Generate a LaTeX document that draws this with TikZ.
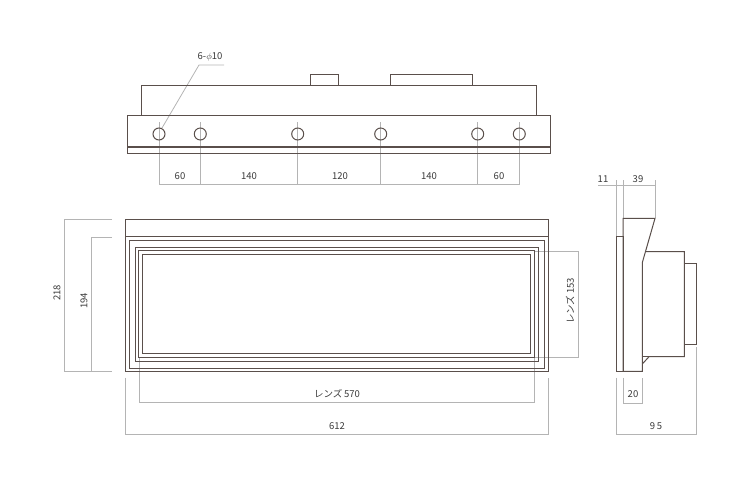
\documentclass[tikz,border=0pt]{standalone}
\usepackage{fontspec}
\setmainfont{Noto Sans CJK JP}
\tikzset{
  outline/.style={draw=linebrown, line width=1pt},
  thickline/.style={draw=linebrown, line width=1.6pt},
  dimline/.style={draw=dimgray, line width=0.8pt},
  dimlabel/.style={text=labelgray, font=\fontsize{9.5}{11}\selectfont, inner sep=0pt},
}
\definecolor{linebrown}{HTML}{5A4F4B}
\definecolor{dimgray}{HTML}{B4B4B4}
\definecolor{labelgray}{HTML}{3A3A3A}
\begin{document}
\begin{tikzpicture}[x=1pt, y=-1pt]
  \useasboundingbox (0,0) rectangle (730,487);
  \coordinate (h1) at (159,134);
  \coordinate (h2) at (200.3,134);
  \coordinate (h3) at (297.7,134);
  \coordinate (h4) at (380.7,134);
  \coordinate (h5) at (477.7,134);
  \coordinate (h6) at (519.3,134);
  \draw [dimline] (h1 |- 0,122) -- (h1 |- 0,184.7) -- (h6 |- 0,184.7) -- (h6 |- 0,122);
  \draw [dimline] (h2 |- 0,122) -- (h2 |- 0,184.7);
  \draw [dimline] (h3 |- 0,122) -- (h3 |- 0,184.7);
  \draw [dimline] (h4 |- 0,122) -- (h4 |- 0,184.7);
  \draw [dimline] (h5 |- 0,122) -- (h5 |- 0,184.7);
  \draw [dimline] (162,128) -- (199,65) -- (224,65);
  \draw [outline] (127.7,115.3) rectangle (550.7,153.7);
  \draw [thickline] (127.7,147.2) -- (550.7,147.2);
  \draw [outline] (141.7,115.3) -- (141.7,85.7) -- (536.7,85.7) -- (536.7,115.3);
  \draw [outline] (310.7,85.7) -- (310.7,74) -- (338,74) -- (338,85.7);
  \draw [outline] (390.7,85.7) -- (390.7,74) -- (472,74) -- (472,85.7);
  \draw [outline] (h1) circle (6);
  \draw [outline] (h2) circle (6);
  \draw [outline] (h3) circle (6);
  \draw [outline] (h4) circle (6);
  \draw [outline] (h5) circle (6);
  \draw [outline] (h6) circle (6);
  \node [dimlabel] (holes) at (210,57) {6-$\phi$10};
  \node [dimlabel] (p1) at (180,176.5) {60};
  \node [dimlabel] (p2) at (249,176.5) {140};
  \node [dimlabel] (p3) at (340,176.5) {120};
  \node [dimlabel] (p4) at (429,176.5) {140};
  \node [dimlabel] (p5) at (499,176.5) {60};

  \draw [dimline] (112,219) -- (64.3,219) -- (64.3,371.5) -- (112,371.5);
  \draw [dimline] (112,237) -- (91.3,237) -- (91.3,371.5);
  \draw [dimline] (534,251) -- (578.7,251) -- (578.7,357) -- (534,357);
  \draw [dimline] (139,358) -- (139,402.7) -- (534,402.7) -- (534,358);
  \draw [dimline] (125.7,377.5) -- (125.7,434) -- (548.3,434) -- (548.3,377.5);
  \draw [outline] (125.7,219) rectangle (548.3,371.5);
  \draw [outline] (125.7,236.7) -- (548.3,236.7);
  \draw [outline] (129.3,240) rectangle (544,368);
  \draw [outline] (135.7,247.3) rectangle (538,361.7);
  \draw [outline] (138.7,250.7) rectangle (534,357.3);
  \draw [outline] (142.3,254.7) rectangle (530,353.3);
  \node [dimlabel, rotate=90] (h218) at (57,293) {218};
  \node [dimlabel, rotate=90] (h194) at (84,301) {194};
  \node [dimlabel, rotate=90] (lens153) at (570,301) {レンズ\,153};
  \node [dimlabel] (lens570) at (337,394) {レンズ\,570};
  \node [dimlabel] (w612) at (337,426) {612};

  \draw [dimline] (598,185.7) -- (655,185.7);
  \draw [dimline] (616.3,180) -- (616.3,236);
  \draw [dimline] (623,180) -- (623,218);
  \draw [dimline] (655,180) -- (655,218);
  \draw [dimline] (623,377.7) -- (623,403) -- (642.3,403) -- (642.3,377.7);
  \draw [dimline] (616.3,377.7) -- (616.3,434) -- (696,434) -- (696,346.7);
  \draw [outline] (616.3,236.3) rectangle (623,371.3);
  \draw [outline] (623,371.3) -- (623,218.3) -- (655,218.3) -- (642.3,262.7) -- (642.3,371.3) -- (623,371.3);
  \draw [outline] (645.7,251.7) -- (684.3,251.7) -- (684.3,356.7) -- (649,356.7) -- (642.3,364);
  \draw [outline] (642.3,356.7) -- (649,356.7);
  \draw [outline] (684.3,263.3) -- (696,263.3) -- (696,344.3) -- (684.3,344.3);
  \node [dimlabel] (d11) at (603,179) {11};
  \node [dimlabel] (d39) at (638,179) {39};
  \node [dimlabel] (d20) at (633,394) {20};
  \node [dimlabel] (d95) at (656,426) {9\,5};
\end{tikzpicture}
\end{document}
